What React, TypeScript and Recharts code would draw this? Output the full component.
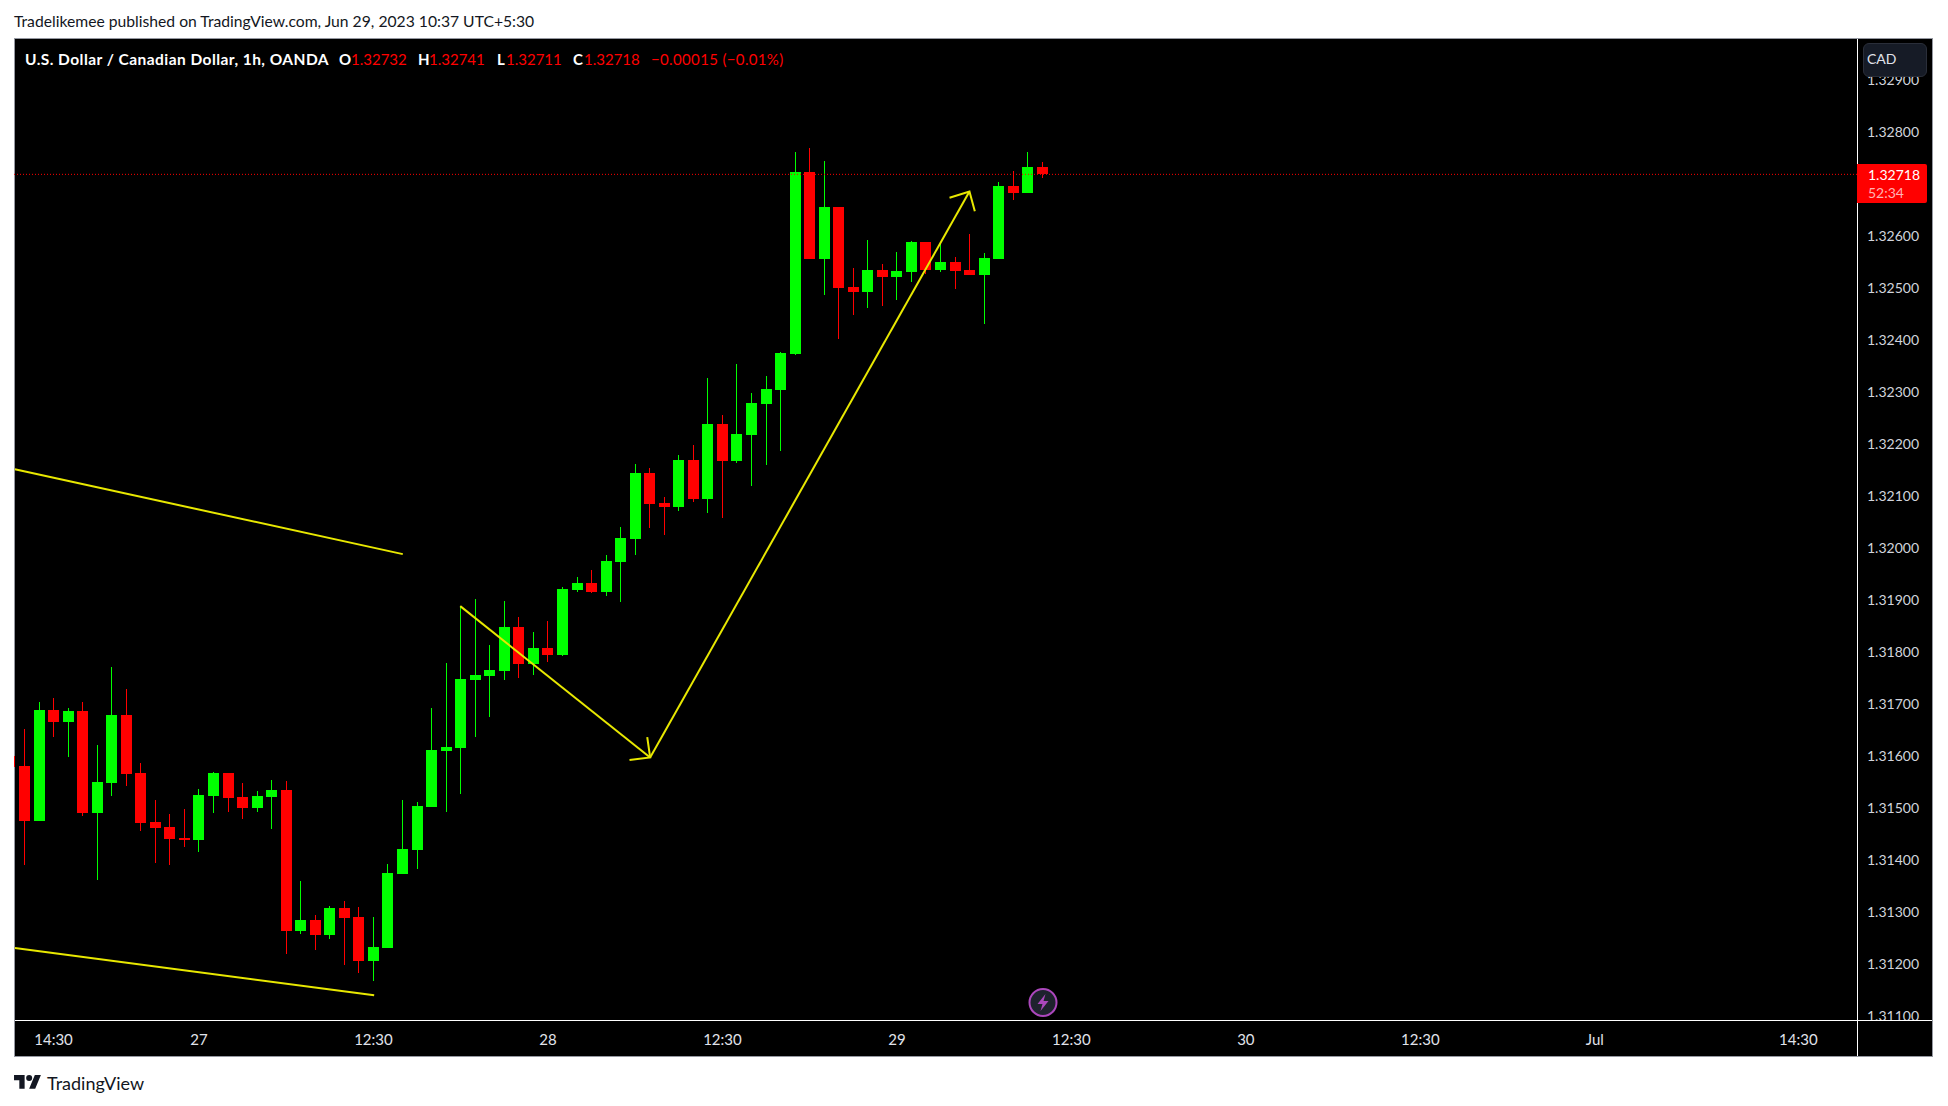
import React from 'react';
import { ComposedChart, Bar, Line, XAxis, YAxis, ReferenceLine } from 'recharts';

const FONT = "'Trebuchet MS', Lato, 'Noto Sans', sans-serif";

// hourly candles, first one is cut off by the left edge of the pane
const firstSlot = -1;
const opens = [
  1.31599, 1.31581, 1.31474, 1.31688, 1.31666, 1.31686, 1.3149, 1.31548, 1.31679, 1.31567, 1.31473, 1.31463,
  1.31442, 1.31438, 1.31523, 1.31567, 1.31521, 1.315, 1.31521, 1.31535, 1.31264, 1.31285, 1.31256, 1.31308,
  1.3129, 1.31206, 1.31231, 1.31373, 1.31419, 1.31502, 1.3161, 1.31615, 1.31746, 1.31754, 1.31763, 1.31848,
  1.31777, 1.31807, 1.31794, 1.31919, 1.31932, 1.31915, 1.31973, 1.32017, 1.32144, 1.32086, 1.32079, 1.32169,
  1.32094, 1.32238, 1.32167, 1.32217, 1.32277, 1.32303, 1.32373, 1.32723, 1.32555, 1.32655, 1.32501, 1.32492,
  1.32534, 1.32521, 1.3253, 1.32588, 1.32534, 1.3255, 1.32534, 1.32525, 1.32555, 1.32696, 1.32682, 1.32732,
];
const highs = [
  1.3162, 1.31652, 1.31704, 1.31711, 1.31692, 1.31704, 1.31621, 1.31771, 1.31729, 1.31587, 1.31515, 1.31488,
  1.31498, 1.31537, 1.31569, 1.31567, 1.31548, 1.31533, 1.31554, 1.31552, 1.3136, 1.31294, 1.31312, 1.31321,
  1.3131, 1.3129, 1.31392, 1.31515, 1.31512, 1.31692, 1.31779, 1.31888, 1.31902, 1.31813, 1.31898, 1.31867,
  1.31838, 1.31859, 1.31925, 1.31944, 1.31957, 1.31986, 1.3204, 1.32161, 1.32154, 1.32098, 1.32179, 1.32198,
  1.32326, 1.32255, 1.32353, 1.32298, 1.3233, 1.32376, 1.32761, 1.32769, 1.32744, 1.32655, 1.32538, 1.32592,
  1.32546, 1.32569, 1.3259, 1.32588, 1.32586, 1.32559, 1.32603, 1.32567, 1.32703, 1.32725, 1.32761, 1.32741,
];
const lows = [
  1.3156, 1.3139, 1.31474, 1.31636, 1.31598, 1.31485, 1.31362, 1.31523, 1.31542, 1.31456, 1.31394, 1.3139,
  1.31425, 1.31415, 1.3149, 1.31492, 1.31479, 1.31492, 1.3146, 1.31219, 1.31258, 1.31227, 1.31248, 1.31198,
  1.31183, 1.31167, 1.31231, 1.31373, 1.31383, 1.31502, 1.31492, 1.31527, 1.31636, 1.31675, 1.31746, 1.3175,
  1.31756, 1.31781, 1.31792, 1.31915, 1.31913, 1.31907, 1.31896, 1.31986, 1.32038, 1.32025, 1.32071, 1.32088,
  1.32067, 1.32057, 1.32163, 1.32119, 1.32159, 1.32186, 1.32371, 1.32555, 1.32486, 1.32401, 1.32448, 1.32461,
  1.32465, 1.32476, 1.32511, 1.32527, 1.3253, 1.32498, 1.32525, 1.3243, 1.32555, 1.32669, 1.32682, 1.32711,
];
const closes = [
  1.31579, 1.31474, 1.31688, 1.31666, 1.31686, 1.3149, 1.3155, 1.31679, 1.31565, 1.31471, 1.31462, 1.3144,
  1.31438, 1.31525, 1.31567, 1.31519, 1.315, 1.31523, 1.31535, 1.31264, 1.31285, 1.31256, 1.31308, 1.31289,
  1.31206, 1.31233, 1.31375, 1.31421, 1.31504, 1.31611, 1.31617, 1.31748, 1.31756, 1.31765, 1.31848, 1.31777,
  1.31807, 1.31794, 1.31921, 1.31932, 1.31915, 1.31975, 1.32019, 1.32144, 1.32084, 1.32079, 1.32169, 1.32094,
  1.32238, 1.32167, 1.32219, 1.32279, 1.32305, 1.32375, 1.32723, 1.32555, 1.32655, 1.325, 1.32492, 1.32534,
  1.32521, 1.32532, 1.32588, 1.32534, 1.3255, 1.32532, 1.32525, 1.32557, 1.32696, 1.32682, 1.32732, 1.32718,
];

const lastClose = 1.32718;
// 1.32700 sits under the last price tag in the original, so it is left out
const priceTicks = [
  1.311, 1.312, 1.313, 1.314, 1.315, 1.316, 1.317, 1.318, 1.319, 1.32, 1.321, 1.322, 1.323, 1.324, 1.325, 1.326,
  1.328, 1.329,
];
const timeSlots = [2, 12, 24, 36, 48, 60, 72, 84, 96, 108, 122];
const timeLabels = ['14:30', '27', '12:30', '28', '12:30', '29', '12:30', '30', '12:30', 'Jul', '14:30'];

// drawings on the chart
const upperTrend = [{ slot: -0.66, price: 1.32151 }, { slot: 26.02, price: 1.31988 }];
const lowerTrend = [{ slot: -0.66, price: 1.31231 }, { slot: 24.05, price: 1.3114 }];
const downArrow = [{ slot: 29.97, price: 1.31888 }, { slot: 43.03, price: 1.31597 }];
const downArrowHead = [{ slot: 42.83, price: 1.31636 }, { slot: 43.03, price: 1.31597 }, { slot: 41.61, price: 1.31592 }];
const upArrow = [{ slot: 43.03, price: 1.31597 }, { slot: 64.99, price: 1.32685 }];
const upArrowHead = [{ slot: 63.62, price: 1.32673 }, { slot: 64.99, price: 1.32685 }, { slot: 65.36, price: 1.32647 }];
const drawings = [upperTrend, lowerTrend, downArrow, downArrowHead, upArrow, upArrowHead];

const candles = opens.map((open, idx) => ({
  slot: firstSlot + idx,
  open,
  high: highs[idx],
  low: lows[idx],
  close: closes[idx],
}));

const UP = '#00ff00';
const DOWN = '#ff0000';
const YELLOW = '#e8e800';
const BODY_WIDTH = 11;

const Candle = (props: any) => {
  const { x, y, width, height, payload } = props;
  const unit = height / (payload.high - payload.low);
  const color = payload.close >= payload.open ? UP : DOWN;
  const center = x + width / 2;
  const bodyTop = y + (payload.high - Math.max(payload.open, payload.close)) * unit;
  const bodyHeight = Math.abs(payload.open - payload.close) * unit;
  return (
    <g shapeRendering="crispEdges">
      <rect x={center - 0.5} y={y} width={1} height={height} fill={color} />
      <rect x={center - BODY_WIDTH / 2} y={bodyTop} width={BODY_WIDTH} height={Math.max(bodyHeight, 1)} fill={color} />
    </g>
  );
};

const Txt = ({ left, top, color, size = 15, bold, spacing = 0, height = 20, children }: any) => (
  <div
    style={{
      position: 'absolute',
      left,
      top,
      color,
      fontSize: size,
      fontWeight: bold ? 700 : 400,
      letterSpacing: spacing,
      lineHeight: `${height}px`,
      whiteSpace: 'nowrap',
      fontFamily: FONT,
    }}
  >
    {children}
  </div>
);

const App = () => {
  return (
    <div style={{ position: 'fixed', left: 0, top: 0, width: 1948, height: 1106, background: '#ffffff', overflow: 'hidden' }}>
      <Txt left={14} top={11} color="#131722" size={15.7}>
        Tradelikemee published on TradingView.com, Jun 29, 2023 10:37 UTC+5:30
      </Txt>

      {/* pane */}
      <div style={{ position: 'absolute', left: 14, top: 38, width: 1919, height: 1019, background: '#000000', boxSizing: 'border-box', border: '1px solid #9598a1' }} />

      <div style={{ position: 'absolute', left: 0, top: 0 }}>
        <ComposedChart
          width={1948}
          height={1106}
          data={candles}
          margin={{ top: 39, right: 15, bottom: 49, left: 14 }}
        >
          <XAxis
            dataKey="slot"
            type="number"
            domain={[-0.72, 126.03]}
            allowDataOverflow
            ticks={timeSlots}
            tickFormatter={(v: number) => timeLabels[timeSlots.indexOf(v)]}
            interval={0}
            height={37}
            axisLine={false}
            tickLine={false}
            tick={{ fill: '#e0e3eb', fontSize: 15, fontFamily: FONT }}
            tickMargin={8}
          />
          <YAxis
            orientation="right"
            type="number"
            domain={[1.310924, 1.329782]}
            allowDataOverflow
            ticks={priceTicks}
            tickFormatter={(v: number) => v.toFixed(5)}
            interval={0}
            width={76}
            axisLine={false}
            tickLine={false}
            tick={{ fill: '#d1d4dc', fontSize: 14, fontFamily: FONT }}
            tickMargin={4}
          />
          <ReferenceLine y={lastClose} stroke={DOWN} strokeWidth={1} strokeDasharray="1 2" />
          {drawings.map((points, idx) => (
            <Line
              key={idx}
              data={points}
              dataKey="price"
              stroke={YELLOW}
              strokeWidth={2}
              dot={false}
              activeDot={false}
              legendType="none"
              isAnimationActive={false}
            />
          ))}
          <Bar dataKey={(d: any) => [d.low, d.high]} shape={Candle} isAnimationActive={false} />
        </ComposedChart>
      </div>

      {/* pane separators, the last price label gets cut by the time scale */}
      <div style={{ position: 'absolute', left: 1858, top: 1021, width: 74, height: 35, background: '#000000' }} />
      <div style={{ position: 'absolute', left: 15, top: 1020, width: 1917, height: 1, background: '#ffffff' }} />
      <div style={{ position: 'absolute', left: 1857, top: 39, width: 1, height: 1017, background: '#ffffff' }} />

      {/* legend */}
      <Txt left={25} top={49} color="#ffffff" bold size={15.5} spacing={0.45}>U.S. Dollar / Canadian Dollar, 1h, OANDA</Txt>
      <Txt left={339} top={49} color="#ffffff" bold>O</Txt>
      <Txt left={351} top={49} color={DOWN}>1.32732</Txt>
      <Txt left={418} top={49} color="#ffffff" bold>H</Txt>
      <Txt left={429} top={49} color={DOWN}>1.32741</Txt>
      <Txt left={497} top={49} color="#ffffff" bold>L</Txt>
      <Txt left={506} top={49} color={DOWN}>1.32711</Txt>
      <Txt left={573} top={49} color="#ffffff" bold>C</Txt>
      <Txt left={584} top={49} color={DOWN}>1.32718</Txt>
      <Txt left={651} top={49} color={DOWN} spacing={0.35}>−0.00015 (−0.01%)</Txt>

      {/* currency button */}
      <div style={{ position: 'absolute', left: 1863, top: 43, width: 64, height: 34, boxSizing: 'border-box', background: '#161b26', border: '1px solid #2a2e39', borderRadius: 6 }} />
      <Txt left={1867} top={49} color="#e0e3eb" size={14}>CAD</Txt>

      {/* last price tag */}
      <div style={{ position: 'absolute', left: 1857, top: 164, width: 70, height: 39, background: DOWN, borderRadius: '0 2px 2px 0' }} />
      <Txt left={1868} top={167} color="#ffffff" size={14} height={16}>1.32718</Txt>
      <Txt left={1868} top={185} color="#ffb3b3" size={14} height={16}>52:34</Txt>

      {/* lightning badge */}
      <svg style={{ position: 'absolute', left: 1027, top: 987 }} width={32} height={32} viewBox="0 0 32 32">
        <circle cx={16} cy={15.5} r={13.5} fill="#1e222d" stroke="#ab47bc" strokeWidth={2} />
        <path d="M18.5 7 L10.5 17 H15.5 L13.5 24 L21.5 14 H16.5 Z" fill="#ab47bc" />
      </svg>

      {/* footer logo */}
      <svg style={{ position: 'absolute', left: 14, top: 1072 }} width={27.3} height={21.2} viewBox="0 0 36 28">
        <path d="M14 22H7V11H0V4h14v18zM28 22h-8l7.5-18h8L28 22z" fill="#131722" />
        <circle cx={20} cy={8} r={4} fill="#131722" />
      </svg>
      <Txt left={47} top={1073} color="#131722" size={18}>TradingView</Txt>
    </div>
  );
};

export default App;
